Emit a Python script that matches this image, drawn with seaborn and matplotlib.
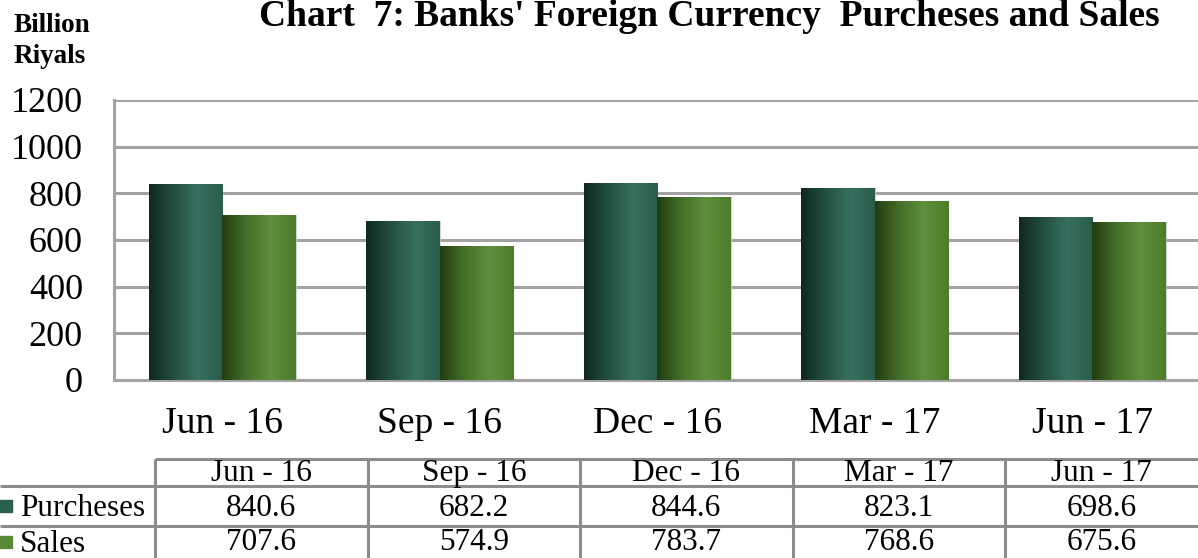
import numpy as np
import pandas as pd
import matplotlib
matplotlib.use("Agg")
import matplotlib.pyplot as plt
import seaborn as sns
from matplotlib.colors import LinearSegmentedColormap

periods = ["Jun - 16", "Sep - 16", "Dec - 16", "Mar - 17", "Jun - 17"]
purchases = [840.6, 682.2, 844.6, 823.1, 698.6]
sales = [707.6, 574.9, 783.7, 768.6, 675.6]
series_names = ["Purcheses", "Sales"]
y_ticks = [0, 200, 400, 600, 800, 1000, 1200]

title = "Chart  7: Banks' Foreign Currency  Purcheses and Sales"
unit_label = "Billion\nRiyals"

# colours: base swatch + gradient stops for the shaded bars
base_colors = ["#2b5f4e", "#5a8a38"]
grad_stops = [
    ["#0f2821", "#24503f", "#377060", "#2a5c4b"],
    ["#233c10", "#45702a", "#5f8f3c", "#4d7c2b"],
]

df = pd.DataFrame({
    "period": periods * 2,
    "value": purchases + sales,
    "series": [series_names[0]] * len(periods) + [series_names[1]] * len(periods),
})

sns.set_theme(style="white")
plt.rcParams["font.family"] = ["Liberation Serif", "DejaVu Serif"]
plt.rcParams["text.color"] = "black"

W, H = 1198, 558
fig = plt.figure(figsize=(W / 100, H / 100), dpi=100)

# main chart area in pixel terms
ax_left, ax_right, ax_top, ax_bottom = 113.5, 1201, 100, 380
ax = fig.add_axes([ax_left / W, (H - ax_bottom) / H,
                   (ax_right - ax_left) / W, (ax_bottom - ax_top) / H])

sns.barplot(data=df, x="period", y="value", hue="series", palette=base_colors,
            width=0.676, saturation=1, legend=False, ax=ax, zorder=3)

ax.set_ylim(0, 1200)
ax.set_xlim(-0.5, len(periods) - 0.5)
ax.set_yticks(y_ticks)
ax.yaxis.grid(True, color="#a3a3a3", linewidth=2.2, zorder=0)
ax.set_axisbelow(True)
ax.set_xlabel("")
ax.set_ylabel("")
for s in ["top", "right"]:
    ax.spines[s].set_visible(False)
for s in ["left", "bottom"]:
    ax.spines[s].set_color("#a3a3a3")
    ax.spines[s].set_linewidth(2.2)
ax.tick_params(axis="y", length=0, pad=22, labelsize=26, labelcolor="black")
ax.tick_params(axis="x", length=0, pad=19, labelsize=27, labelcolor="black")

# cylinder-like shading on each bar
n = len(periods)
for i, patch in enumerate(ax.patches[:2 * n]):
    cmap = LinearSegmentedColormap.from_list("g", grad_stops[i // n])
    x0, w, h = patch.get_x(), patch.get_width(), patch.get_height()
    grad = np.linspace(0, 1, 256).reshape(1, -1)
    im = ax.imshow(grad, cmap=cmap, extent=[x0, x0 + w, 0, h], aspect="auto",
                   zorder=3, interpolation="bicubic")
    im.set_clip_path(patch)
    patch.set_facecolor("none")
    patch.set_edgecolor("#c8c8c8")
    patch.set_linewidth(0.6)
ax.set_ylim(0, 1200)
ax.set_xlim(-0.5, len(periods) - 0.5)

# overlay in pixel coordinates for title, unit label and data table
ov = fig.add_axes([0, 0, 1, 1], zorder=5)
ov.set_xlim(0, W)
ov.set_ylim(H, 0)
ov.axis("off")
ov.patch.set_alpha(0)

ov.text(709, 16, title, ha="center", va="center", fontsize=27, fontweight="bold")
ov.text(14, 41, unit_label, ha="left", va="center", fontsize=19.5, fontweight="bold",
        linespacing=1.3)

col_edges = [155, 367.5, 580, 792.5, 1005, 1198]
row_edges = [459, 486, 526, 558]
line_kw = dict(color="#8c8c8c", linewidth=2.2, solid_capstyle="butt")
ov.plot([col_edges[0], W], [row_edges[0]] * 2, **line_kw)
for y in row_edges[1:3]:
    ov.plot([0, W], [y, y], **line_kw)
for x in col_edges[:-1]:
    ov.plot([x, x], [row_edges[0], H], **line_kw)

fs_table = 22.5
for j, p in enumerate(periods):
    cx = (col_edges[j] + col_edges[j + 1]) / 2
    ov.text(cx, (row_edges[0] + row_edges[1]) / 2 + 1, p, ha="center", va="center",
            fontsize=fs_table)
    ov.text(cx, (row_edges[1] + row_edges[2]) / 2 + 2, f"{purchases[j]:.1f}",
            ha="center", va="center", fontsize=fs_table)
    ov.text(cx, (row_edges[2] + row_edges[3]) / 2 + 1, f"{sales[j]:.1f}",
            ha="center", va="center", fontsize=fs_table)

for r, name in enumerate(series_names):
    cy = (row_edges[r + 1] + row_edges[r + 2]) / 2
    ov.add_patch(plt.Rectangle((0, cy - 6), 12, 12, color=base_colors[r]))
    ov.text(20, cy + 2, name, ha="left", va="center", fontsize=fs_table)

fig.savefig("out.png", dpi=100)
